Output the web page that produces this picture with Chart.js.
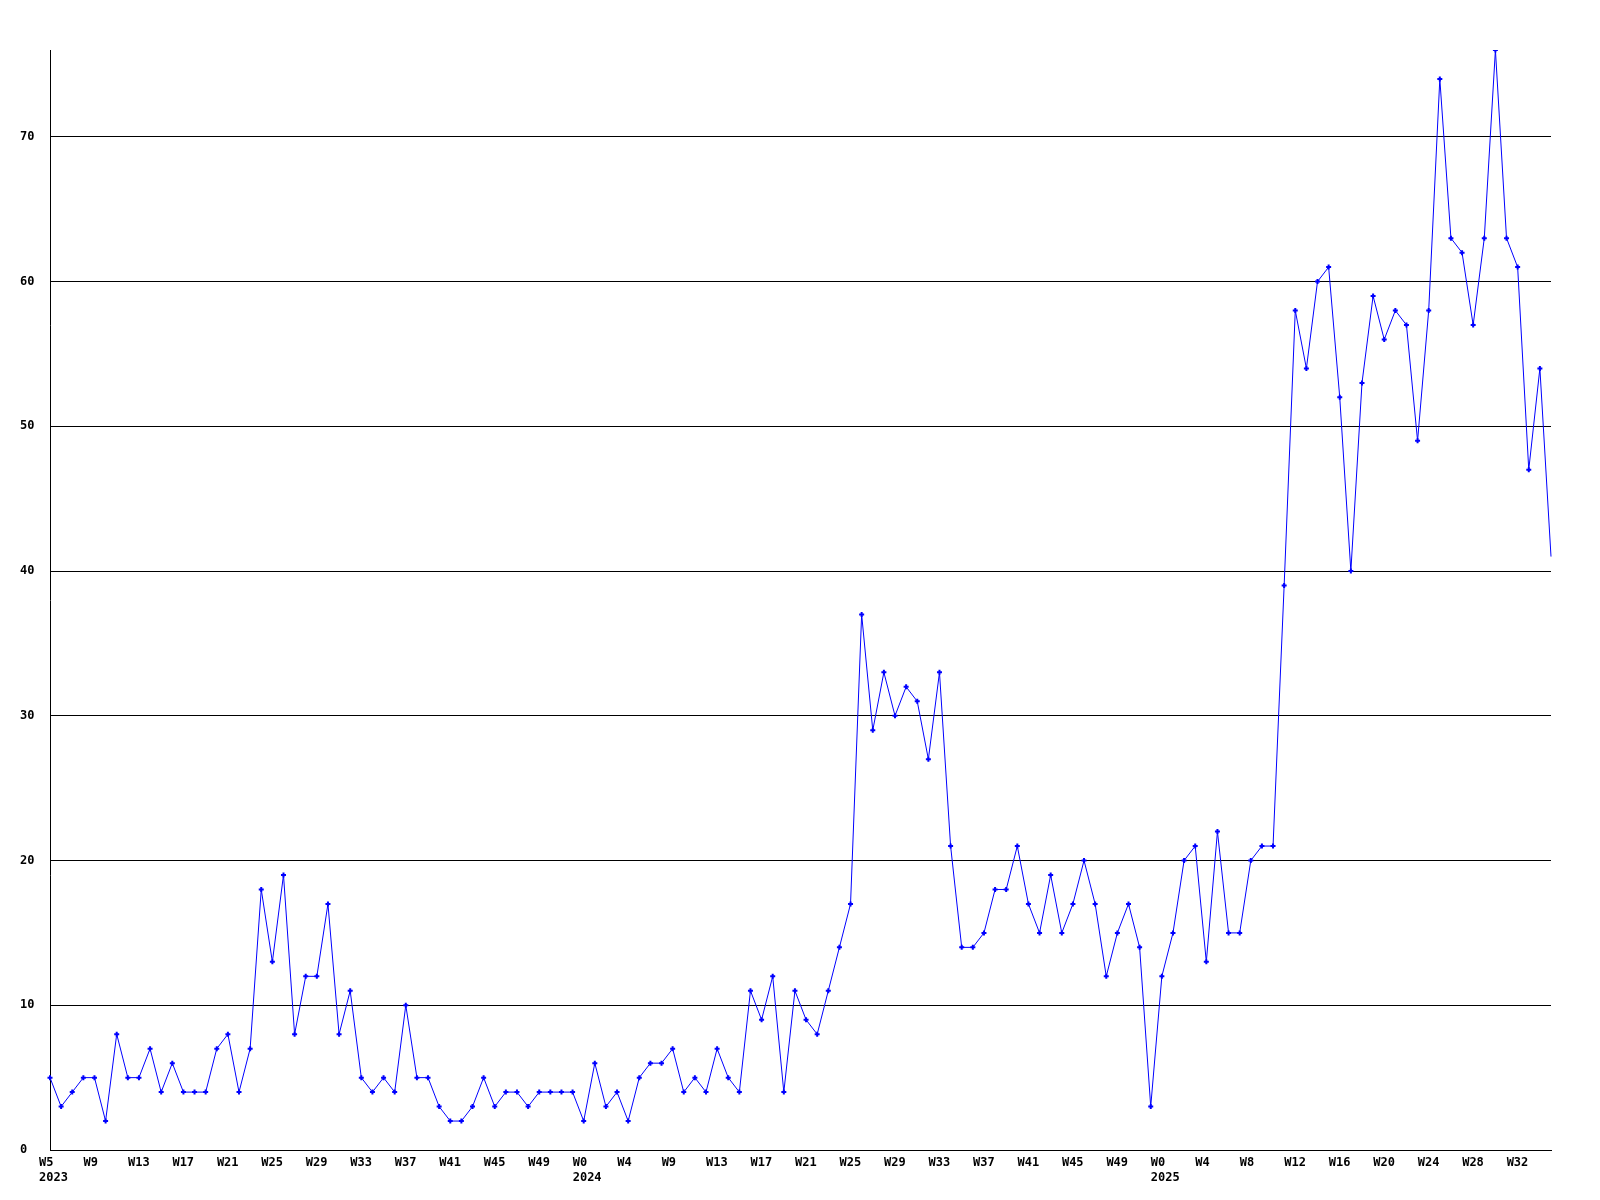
<!DOCTYPE html>
<html>
<head>
<meta charset="utf-8">
<script src="https://cdn.jsdelivr.net/npm/chart.js@4.4.1/dist/chart.umd.min.js"></script>
<style>
  html, body { margin: 0; padding: 0; background: #fff; }
  #chart { display: block; }
</style>
</head>
<body>
<canvas id="chart" width="1600" height="1200"></canvas>
<script>
// week labels per year (one entry per data point)
const weeks2023 = ['W5','W6','W7','W8','W9','W10','W11','W12','W13','W14','W15','W16','W17','W18','W19','W20',
  'W21','W22','W23','W24','W25','W26','W27','W28','W29','W30','W31','W32','W33','W34','W35','W36',
  'W37','W38','W39','W40','W41','W42','W43','W44','W45','W46','W47','W48','W49','W50','W51','W52'];
const weeks2024 = ['W0','W1','W2','W3','W4','W6','W7','W8','W9','W10','W11','W12','W13','W14','W15','W16',
  'W17','W18','W19','W20','W21','W22','W23','W24','W25','W26','W27','W28','W29','W30','W31','W32',
  'W33','W34','W35','W36','W37','W38','W39','W40','W41','W42','W43','W44','W45','W46','W47','W48',
  'W49','W50','W51','W52'];
const weeks2025 = ['W0','W1','W2','W3','W4','W5','W6','W7','W8','W9','W10','W11','W12','W13','W14','W15',
  'W16','W17','W18','W19','W20','W21','W22','W23','W24','W25','W26','W27','W28','W29','W30','W31',
  'W32','W33','W34','W35'];
const years = ['2023', '2024', '2025'];

const counts = [
  5, 3, 4, 5, 5, 2, 8, 5, 5, 7, 4, 6, 4, 4, 4, 7, 8, 4, 7, 18, 13, 19, 8, 12, 12, 17,
  8, 11, 5, 4, 5, 4, 10, 5, 5, 3, 2, 2, 3, 5, 3, 4, 4, 3, 4, 4, 4, 4, 2, 6, 3,
  4, 2, 5, 6, 6, 7, 4, 5, 4, 7, 5, 4, 11, 9, 12, 4, 11, 9, 8, 11, 14, 17,
  37, 29, 33, 30, 32, 31, 27, 33, 21, 14, 14, 15, 18, 18, 21, 17, 15, 19, 15, 17, 20, 17, 12, 15, 17,
  14, 3, 12, 15, 20, 21, 13, 22, 15, 15, 20, 21, 21,
  39, 58, 54, 60, 61, 52, 40, 53, 59, 56, 58, 57, 49, 58, 74, 63, 62, 57, 63, 76, 63, 61, 47, 54, 41
];

const yMax = 76;
const yStep = 10;

const labels = weeks2023.concat(weeks2024, weeks2025);
const yearStart = { 0: years[0] };
yearStart[weeks2023.length] = years[1];
yearStart[weeks2023.length + weeks2024.length] = years[2];

const FONT = { family: '"DejaVu Sans Mono", "Liberation Mono", monospace', size: 12, weight: 'bold', lineHeight: '15px' };

new Chart(document.getElementById('chart'), {
  type: 'line',
  data: {
    labels,
    datasets: [{
      data: counts,
      borderColor: '#0000ff',
      borderWidth: 1,
      backgroundColor: '#0000ff',
      pointStyle: 'cross',
      pointRadius: ctx => ctx.dataIndex === counts.length - 1 ? 0 : 2.5,
      pointBorderWidth: 2,
      pointBackgroundColor: '#0000ff',
      pointBorderColor: '#0000ff',
      tension: 0,
      fill: false
    }]
  },
  options: {
    responsive: false,
    animation: false,
    devicePixelRatio: 1,
    layout: { padding: { left: 20, right: 49, top: 50, bottom: 0 } },
    plugins: { legend: { display: false }, tooltip: { enabled: false } },
    scales: {
      x: {
        type: 'category',
        offset: false,
        grid: { display: false, drawTicks: false },
        border: { display: true, color: '#000', width: 1 },
        afterFit: s => { s.height = 50; },
        ticks: {
          autoSkip: false,
          maxRotation: 0,
          minRotation: 0,
          align: 'start',
          labelOffset: -11,
          padding: 5,
          color: '#000',
          font: FONT,
          callback: (v, i) => {
            if (i % 4 !== 0) return '';
            return yearStart[i] ? [labels[i], yearStart[i]] : labels[i];
          }
        }
      },
      y: {
        min: 0,
        max: yMax,
        afterBuildTicks: s => { s.ticks = s.ticks.filter(t => t.value % yStep === 0); },
        afterFit: s => { s.width = 30; },
        grid: { color: '#000', lineWidth: 1, drawTicks: false },
        border: { display: true, color: '#000', width: 1 },
        ticks: {
          stepSize: yStep,
          crossAlign: 'far',
          padding: 0,
          color: '#000',
          font: FONT
        }
      }
    }
  }
});
</script>
</body>
</html>
